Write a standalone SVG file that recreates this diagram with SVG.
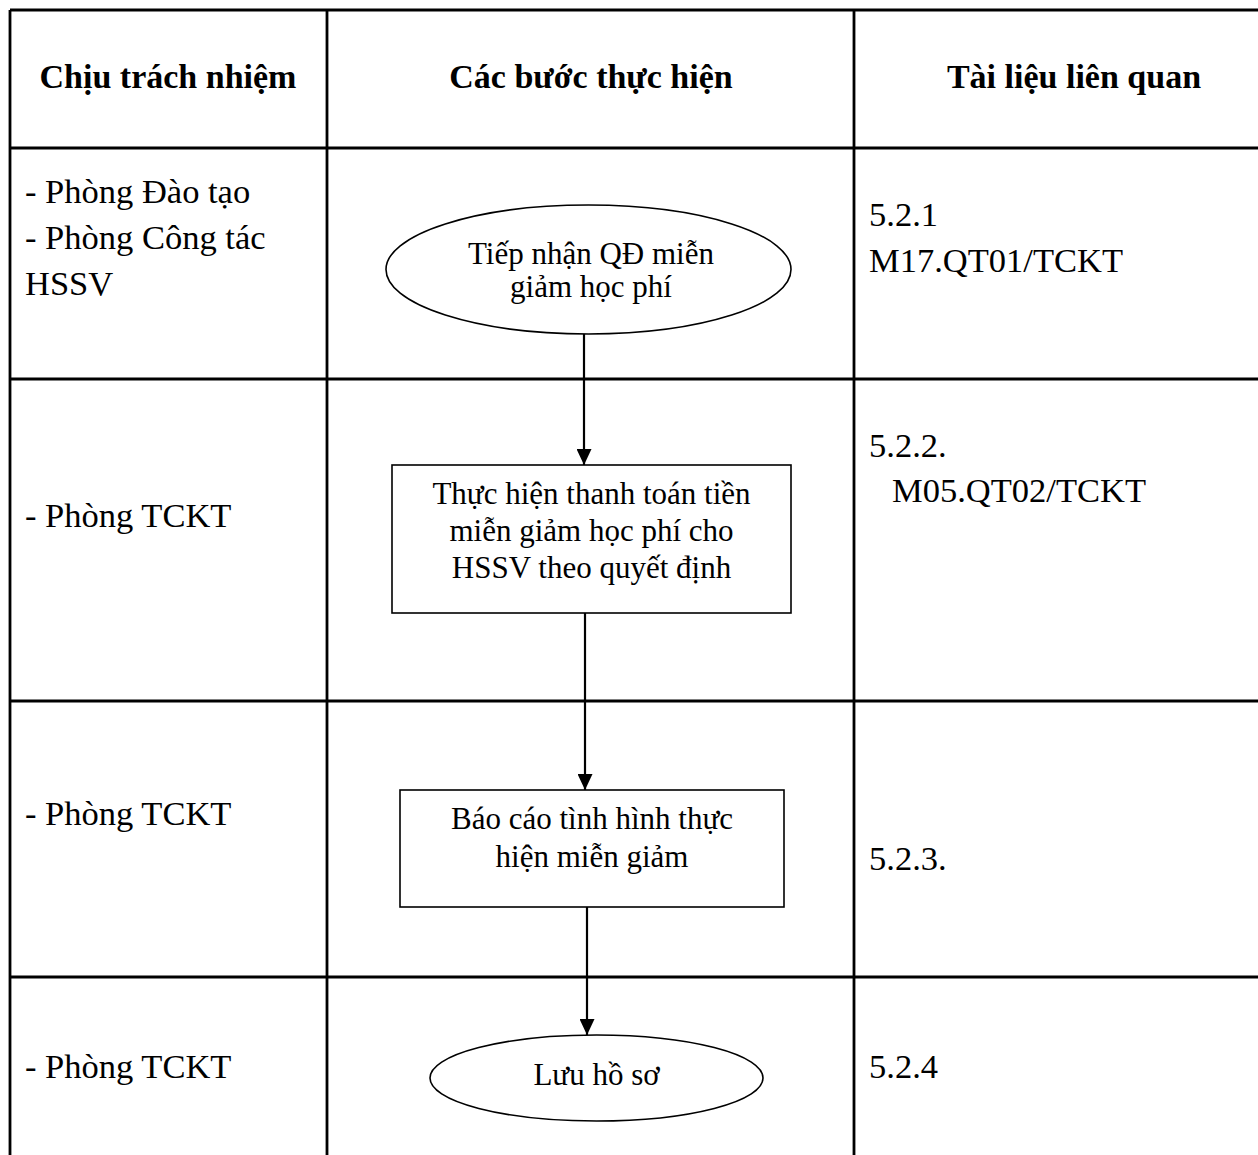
<svg xmlns="http://www.w3.org/2000/svg" width="1258" height="1155" viewBox="0 0 1258 1155">
<style>
  .grid { stroke: #000; stroke-width: 2.8; fill: none; }
  .shape { stroke: #000; stroke-width: 1.6; fill: #fff; }
  .conn { stroke: #000; stroke-width: 2.2; fill: none; }
  .hdr { font-family: "Liberation Serif", "Times New Roman", serif; font-weight: bold; font-size: 34px; fill: #000; }
  .cell { font-family: "Liberation Serif", "Times New Roman", serif; font-size: 34.5px; fill: #000; }
  .lbl { font-family: "Liberation Serif", "Times New Roman", serif; font-size: 31px; fill: #000; text-anchor: middle; }
</style>
<defs>
  <marker id="arrow" markerWidth="16" markerHeight="15" refX="16" refY="7.5" orient="auto" markerUnits="userSpaceOnUse">
    <path d="M0,0 L16,7.5 L0,15 Z" fill="#000"/>
  </marker>
</defs>
<rect x="0" y="0" width="1258" height="1155" fill="#fff"/>

<g id="table">
  <line class="grid" x1="10" y1="10" x2="1258" y2="10"/>
  <line class="grid" x1="10" y1="148" x2="1258" y2="148"/>
  <line class="grid" x1="10" y1="379" x2="1258" y2="379"/>
  <line class="grid" x1="10" y1="701" x2="1258" y2="701"/>
  <line class="grid" x1="10" y1="977" x2="1258" y2="977"/>
  <line class="grid" x1="10" y1="10" x2="10" y2="1155"/>
  <line class="grid" x1="327" y1="10" x2="327" y2="1155"/>
  <line class="grid" x1="854" y1="10" x2="854" y2="1155"/>
</g>

<g id="headers">
  <text class="hdr" x="168" y="88" text-anchor="middle">Chịu trách nhiệm</text>
  <text class="hdr" x="591" y="88" text-anchor="middle">Các bước thực hiện</text>
  <text class="hdr" x="1074" y="88" text-anchor="middle">Tài liệu liên quan</text>
</g>

<g id="responsible">
  <text class="cell" x="25" y="203">- Phòng  Đào tạo</text>
  <text class="cell" x="25" y="249">- Phòng Công tác</text>
  <text class="cell" x="25" y="295">HSSV</text>
  <text class="cell" x="25" y="527">- Phòng TCKT</text>
  <text class="cell" x="25" y="825">- Phòng TCKT</text>
  <text class="cell" x="25" y="1078">- Phòng TCKT</text>
</g>

<g id="documents">
  <text class="cell" x="869" y="226">5.2.1</text>
  <text class="cell" x="869" y="272">M17.QT01/TCKT</text>
  <text class="cell" x="869" y="457">5.2.2.</text>
  <text class="cell" x="892" y="502">M05.QT02/TCKT</text>
  <text class="cell" x="869" y="870">5.2.3.</text>
  <text class="cell" x="869" y="1078">5.2.4</text>
</g>

<g id="connectors">
  <line class="conn" x1="584" y1="334" x2="584" y2="465" marker-end="url(#arrow)"/>
  <line class="conn" x1="585" y1="613" x2="585" y2="790" marker-end="url(#arrow)"/>
  <line class="conn" x1="587" y1="907" x2="587" y2="1035" marker-end="url(#arrow)"/>
</g>

<g id="node-tiep-nhan">
  <ellipse class="shape" cx="588.5" cy="269.5" rx="202.5" ry="64.5"/>
  <text class="lbl" x="591" y="264">Tiếp nhận QĐ miễn</text>
  <text class="lbl" x="591" y="297">giảm học phí</text>
</g>

<g id="node-thanh-toan">
  <rect class="shape" x="392" y="465" width="399" height="148"/>
  <text class="lbl" x="591.5" y="504">Thực hiện thanh toán tiền</text>
  <text class="lbl" x="591.5" y="541">miễn giảm học phí cho</text>
  <text class="lbl" x="591.5" y="578">HSSV theo quyết định</text>
</g>

<g id="node-bao-cao">
  <rect class="shape" x="400" y="790" width="384" height="117"/>
  <text class="lbl" x="592" y="829">Báo cáo tình hình thực</text>
  <text class="lbl" x="592" y="867">hiện miễn giảm</text>
</g>

<g id="node-luu-ho-so">
  <ellipse class="shape" cx="596.5" cy="1078" rx="166.5" ry="43"/>
  <text class="lbl" x="596.5" y="1085">Lưu hồ sơ</text>
</g>
</svg>
